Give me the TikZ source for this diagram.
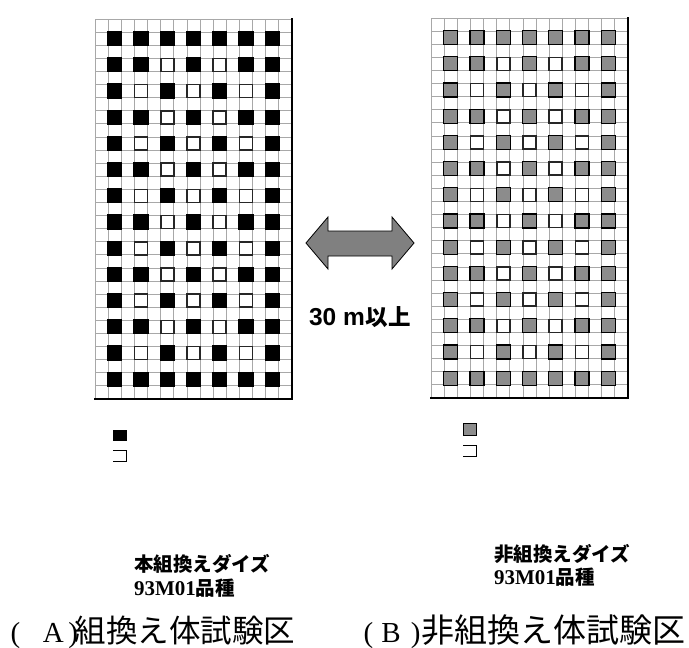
\documentclass[tikz,border=0pt]{standalone}
\usepackage{fontspec}
\setmainfont{Liberation Serif}
\newfontfamily\cjk{Noto Sans CJK JP}
\newfontfamily\arialf{Liberation Sans}
\definecolor{gridgray}{HTML}{A8A8A8}
\definecolor{sqgray}{HTML}{8C8C8C}
\definecolor{arrowgray}{HTML}{808080}
\tikzset{
  gridline/.style={draw=gridgray, line width=0.8pt},
  border/.style={draw=black, line width=2pt},
  fullsq/.style={fill=#1, draw=black, line width=1.2pt},
  opensq/.style={fill=white, draw=black!85, line width=1.6pt},
  lbl/.style={anchor=base west, inner sep=0pt, outer sep=0pt},
}
\newcommand\fieldplot[3]{% x0, y0, fill colour
  \begin{scope}[shift={(#1,#2)}]
    \foreach \i in {0,...,15} \draw[gridline] (\i*13.13,0) -- (\i*13.13,380);
    \foreach \j in {0,...,29} \draw[gridline] (0,\j*13.1) -- (197,\j*13.1);
    \draw[border] (197,-1) -- (197,380) -- (-1,380);
    \foreach \r in {1,...,14} {
      \foreach \c in {1,...,7} {
        \pgfmathtruncatemacro\op{and(and(\r>1,\r<14),or(and(mod(\r,2)==0,or(\c==3,\c==5)),and(mod(\r,2)==1,or(or(\c==2,\c==4),\c==6))))}
        \pgfmathsetmacro\cx{(2*\c-0.5)*13.13}
        \pgfmathsetmacro\cy{(2*\r-0.5)*13.1}
        \ifnum\op=1
          \draw[opensq] (\cx-6.5,\cy-6.5) rectangle (\cx+6.5,\cy+6.5);
        \else
          \draw[fullsq=#3] (\cx-7,\cy-7) rectangle (\cx+7,\cy+7);
        \fi
      }
    }
  \end{scope}
}
\begin{document}
\begin{tikzpicture}[x=1pt,y=-1pt]
\useasboundingbox (0,0) rectangle (689,648);
\fill[white] (0,0) rectangle (689,648);

\fieldplot{95}{19}{black}
\fieldplot{431}{18}{sqgray}

% double arrow
\draw[fill=arrowgray, draw=black, line width=0.8pt]
  (306,243) -- (328,217) -- (328,231) -- (392,231) -- (392,217) -- (414,243)
  -- (392,269) -- (392,256) -- (328,256) -- (328,269) -- cycle;
\node[lbl] (dist) at (309,325) {\arialf\bfseries\fontsize{24.5}{26}\selectfont 30 m\hspace{1pt}{\cjk\bfseries\fontsize{22.5}{24}\selectfont 以上}};

% legends
\fill[black] (113,430) rectangle (127,441);
\draw[black, line width=1.3pt] (113,450.5) -- (126.5,450.5) -- (126.5,461.5) -- (113,461.5);
\draw[fill=sqgray, draw=black, line width=1.1pt] (463.5,423.5) rectangle (476.5,435.5);
\draw[black, line width=1.3pt] (463,445.5) -- (476.5,445.5) -- (476.5,456.5) -- (463,456.5);

% labels
\node[lbl] (va1) at (134,571) {\cjk\bfseries\fontsize{19.5}{20}\selectfont 本組換えダイズ};
\node[lbl] (va2) at (134,595) {{\bfseries\fontsize{21}{22}\selectfont 93M01}{\cjk\bfseries\fontsize{19.5}{20}\selectfont 品種}};
\node[lbl] (vb1) at (494,561) {\cjk\bfseries\fontsize{19.5}{20}\selectfont 非組換えダイズ};
\node[lbl] (vb2) at (494,584) {{\bfseries\fontsize{21}{22}\selectfont 93M01}{\cjk\bfseries\fontsize{19.5}{20}\selectfont 品種}};

\node[lbl] (ta) at (10.6,642.5) {\fontsize{29}{30}\selectfont(\hspace{22.7pt}A\hspace{4.5pt})\hspace{-3.4pt}{\cjk\fontsize{31.5}{32}\selectfont 組換え体試験区}};
\node[lbl] (tb) at (363.6,642.5) {\fontsize{29}{30}\selectfont(\hspace{8.2pt}B\hspace{10.2pt})\hspace{0.8pt}{\cjk\fontsize{33}{34}\selectfont 非組換え体試験区}};
\end{tikzpicture}
\end{document}
